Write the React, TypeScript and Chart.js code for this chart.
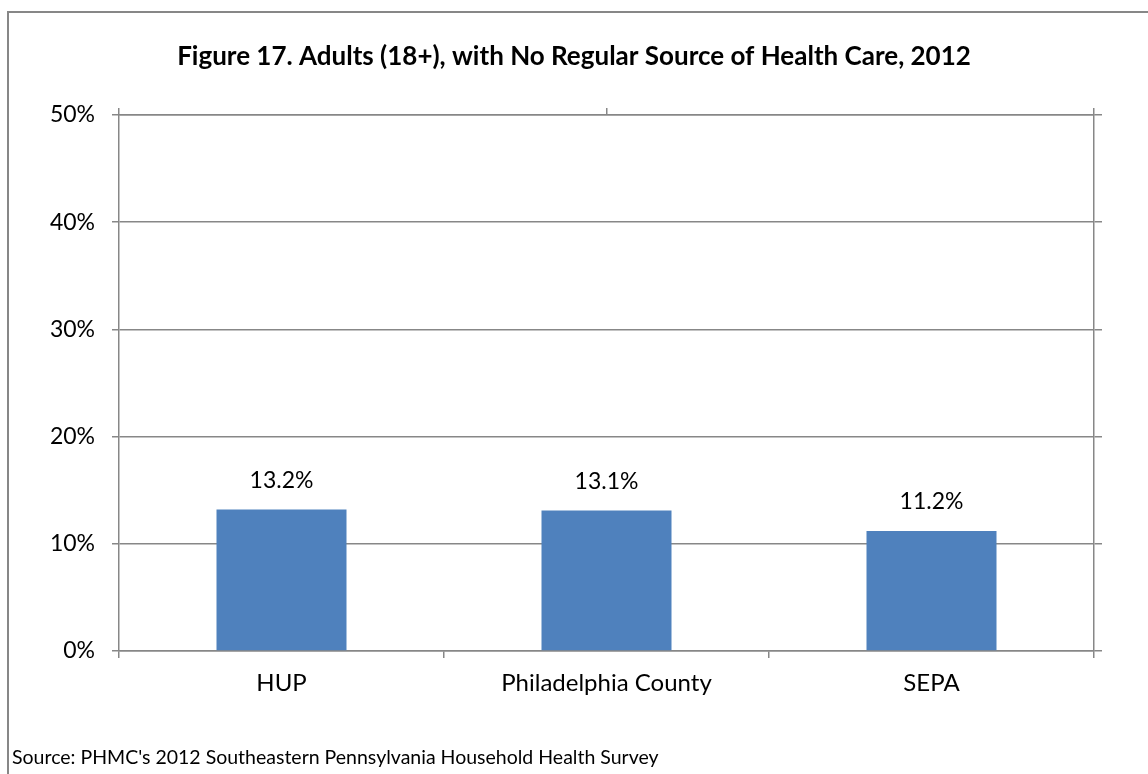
import React, { useEffect, useRef } from "react";
import { Chart, registerables } from "chart.js";

Chart.register(...registerables);

const categories = ["HUP", "Philadelphia County", "SEPA"];
const values = [13.2, 13.1, 11.2];
const topTickSlots = ["", ""];
const yMin = 0;
const yMax = 50;
const yStep = 10;
const titleText = "Figure 17. Adults (18+), with No Regular Source of Health Care, 2012";
const sourceText = "Source: PHMC's 2012 Southeastern Pennsylvania Household Health Survey";

const FONT = "Lato";
const GRID = "#878787";
const BAR = "#4F81BD";

const valueLabels = {
  id: "valueLabels",
  afterDatasetsDraw(chart: any) {
    const ctx = chart.ctx;
    const meta = chart.getDatasetMeta(0);
    ctx.save();
    ctx.font = `23px ${FONT}`;
    ctx.fillStyle = "#000";
    ctx.textAlign = "center";
    ctx.textBaseline = "middle";
    meta.data.forEach((el: any, i: number) => {
      ctx.fillText(values[i].toFixed(1) + "%", el.x, el.y - 29);
    });
    ctx.restore();
  },
};

export default function App() {
  const ref = useRef<HTMLCanvasElement | null>(null);

  useEffect(() => {
    let chart: Chart | null = null;
    let cancelled = false;
    const make = () => {
      if (cancelled || !ref.current) return;
      chart = new Chart(ref.current, {
        type: "bar",
        data: {
          labels: categories,
          datasets: [
            {
              data: values,
              backgroundColor: BAR,
              borderWidth: 0,
              barPercentage: 0.4,
              categoryPercentage: 1,
              xAxisID: "x",
              yAxisID: "y",
            },
          ],
        },
        options: {
          responsive: false,
          maintainAspectRatio: false,
          animation: false,
          layout: { padding: { left: 0, right: 0, top: 0, bottom: 76 } },
          plugins: {
            legend: { display: false },
            tooltip: { enabled: false },
            title: {
              display: true,
              text: titleText,
              color: "#000",
              font: { family: FONT, size: 26, weight: "bold" },
              padding: { top: 41.5, bottom: 35.3 },
            },
          },
          scales: {
            x: {
              type: "category",
              position: "bottom",
              offset: true,
              grid: {
                offset: true,
                drawOnChartArea: false,
                drawTicks: true,
                tickLength: 7,
                color: GRID,
                lineWidth: 1.5,
              },
              border: { display: true, color: GRID, width: 1.5 },
              ticks: {
                color: "#000",
                font: { family: FONT, size: 24 },
                padding: 11,
                maxRotation: 0,
                autoSkip: false,
              },
              afterFit: (s: any) => {
                s.height = 47;
              },
            },
            x2: {
              type: "category",
              position: "top",
              labels: topTickSlots,
              offset: true,
              grid: {
                offset: true,
                drawOnChartArea: false,
                drawTicks: true,
                tickLength: 7,
                color: GRID,
                lineWidth: 1.5,
              },
              border: { display: true, color: GRID, width: 1.5 },
              ticks: { display: false },
            },
            y: {
              type: "linear",
              position: "left",
              min: yMin,
              max: yMax,
              ticks: {
                stepSize: yStep,
                color: "#000",
                font: { family: FONT, size: 23 },
                padding: 17,
                callback: (v: any) => v + "%",
              },
              grid: {
                color: GRID,
                lineWidth: 1.5,
                drawTicks: true,
                tickLength: 7,
              },
              border: { display: true, color: GRID, width: 1.5 },
              afterFit: (s: any) => {
                s.width = 119;
              },
            },
            y2: {
              type: "linear",
              position: "right",
              min: yMin,
              max: yMax,
              ticks: { display: false, stepSize: yStep },
              grid: {
                drawOnChartArea: false,
                drawTicks: true,
                tickLength: 8,
                color: GRID,
                lineWidth: 1.5,
              },
              border: { display: true, color: GRID, width: 1.5 },
              afterFit: (s: any) => {
                s.width = 54;
              },
            },
          },
        } as any,
        plugins: [valueLabels],
      });
    };
    const fonts: any = (document as any).fonts;
    if (fonts && fonts.load) {
      Promise.all([
        fonts.load(`23px ${FONT}`),
        fonts.load(`bold 26px ${FONT}`),
      ])
        .catch(() => null)
        .then(make);
    } else {
      make();
    }
    return () => {
      cancelled = true;
      if (chart) chart.destroy();
    };
  }, []);

  return (
    <div
      style={{
        position: "fixed",
        left: 0,
        top: 0,
        width: 1148,
        height: 774,
        overflow: "hidden",
        background: "#fff",
      }}
    >
      <div
        style={{
          position: "absolute",
          left: 7,
          top: 11,
          width: 2000,
          height: 2000,
          borderLeft: `2px solid ${GRID}`,
          borderTop: `2px solid ${GRID}`,
        }}
      />
      <canvas
        ref={ref}
        width={1148}
        height={774}
        style={{ position: "absolute", left: 0, top: 0, width: 1148, height: 774 }}
      />
      <div
        style={{
          position: "absolute",
          left: 12,
          top: 746,
          fontFamily: FONT,
          fontSize: 19.5,
          lineHeight: "22px",
          color: "#000",
          whiteSpace: "nowrap",
        }}
      >
        {sourceText}
      </div>
    </div>
  );
}
